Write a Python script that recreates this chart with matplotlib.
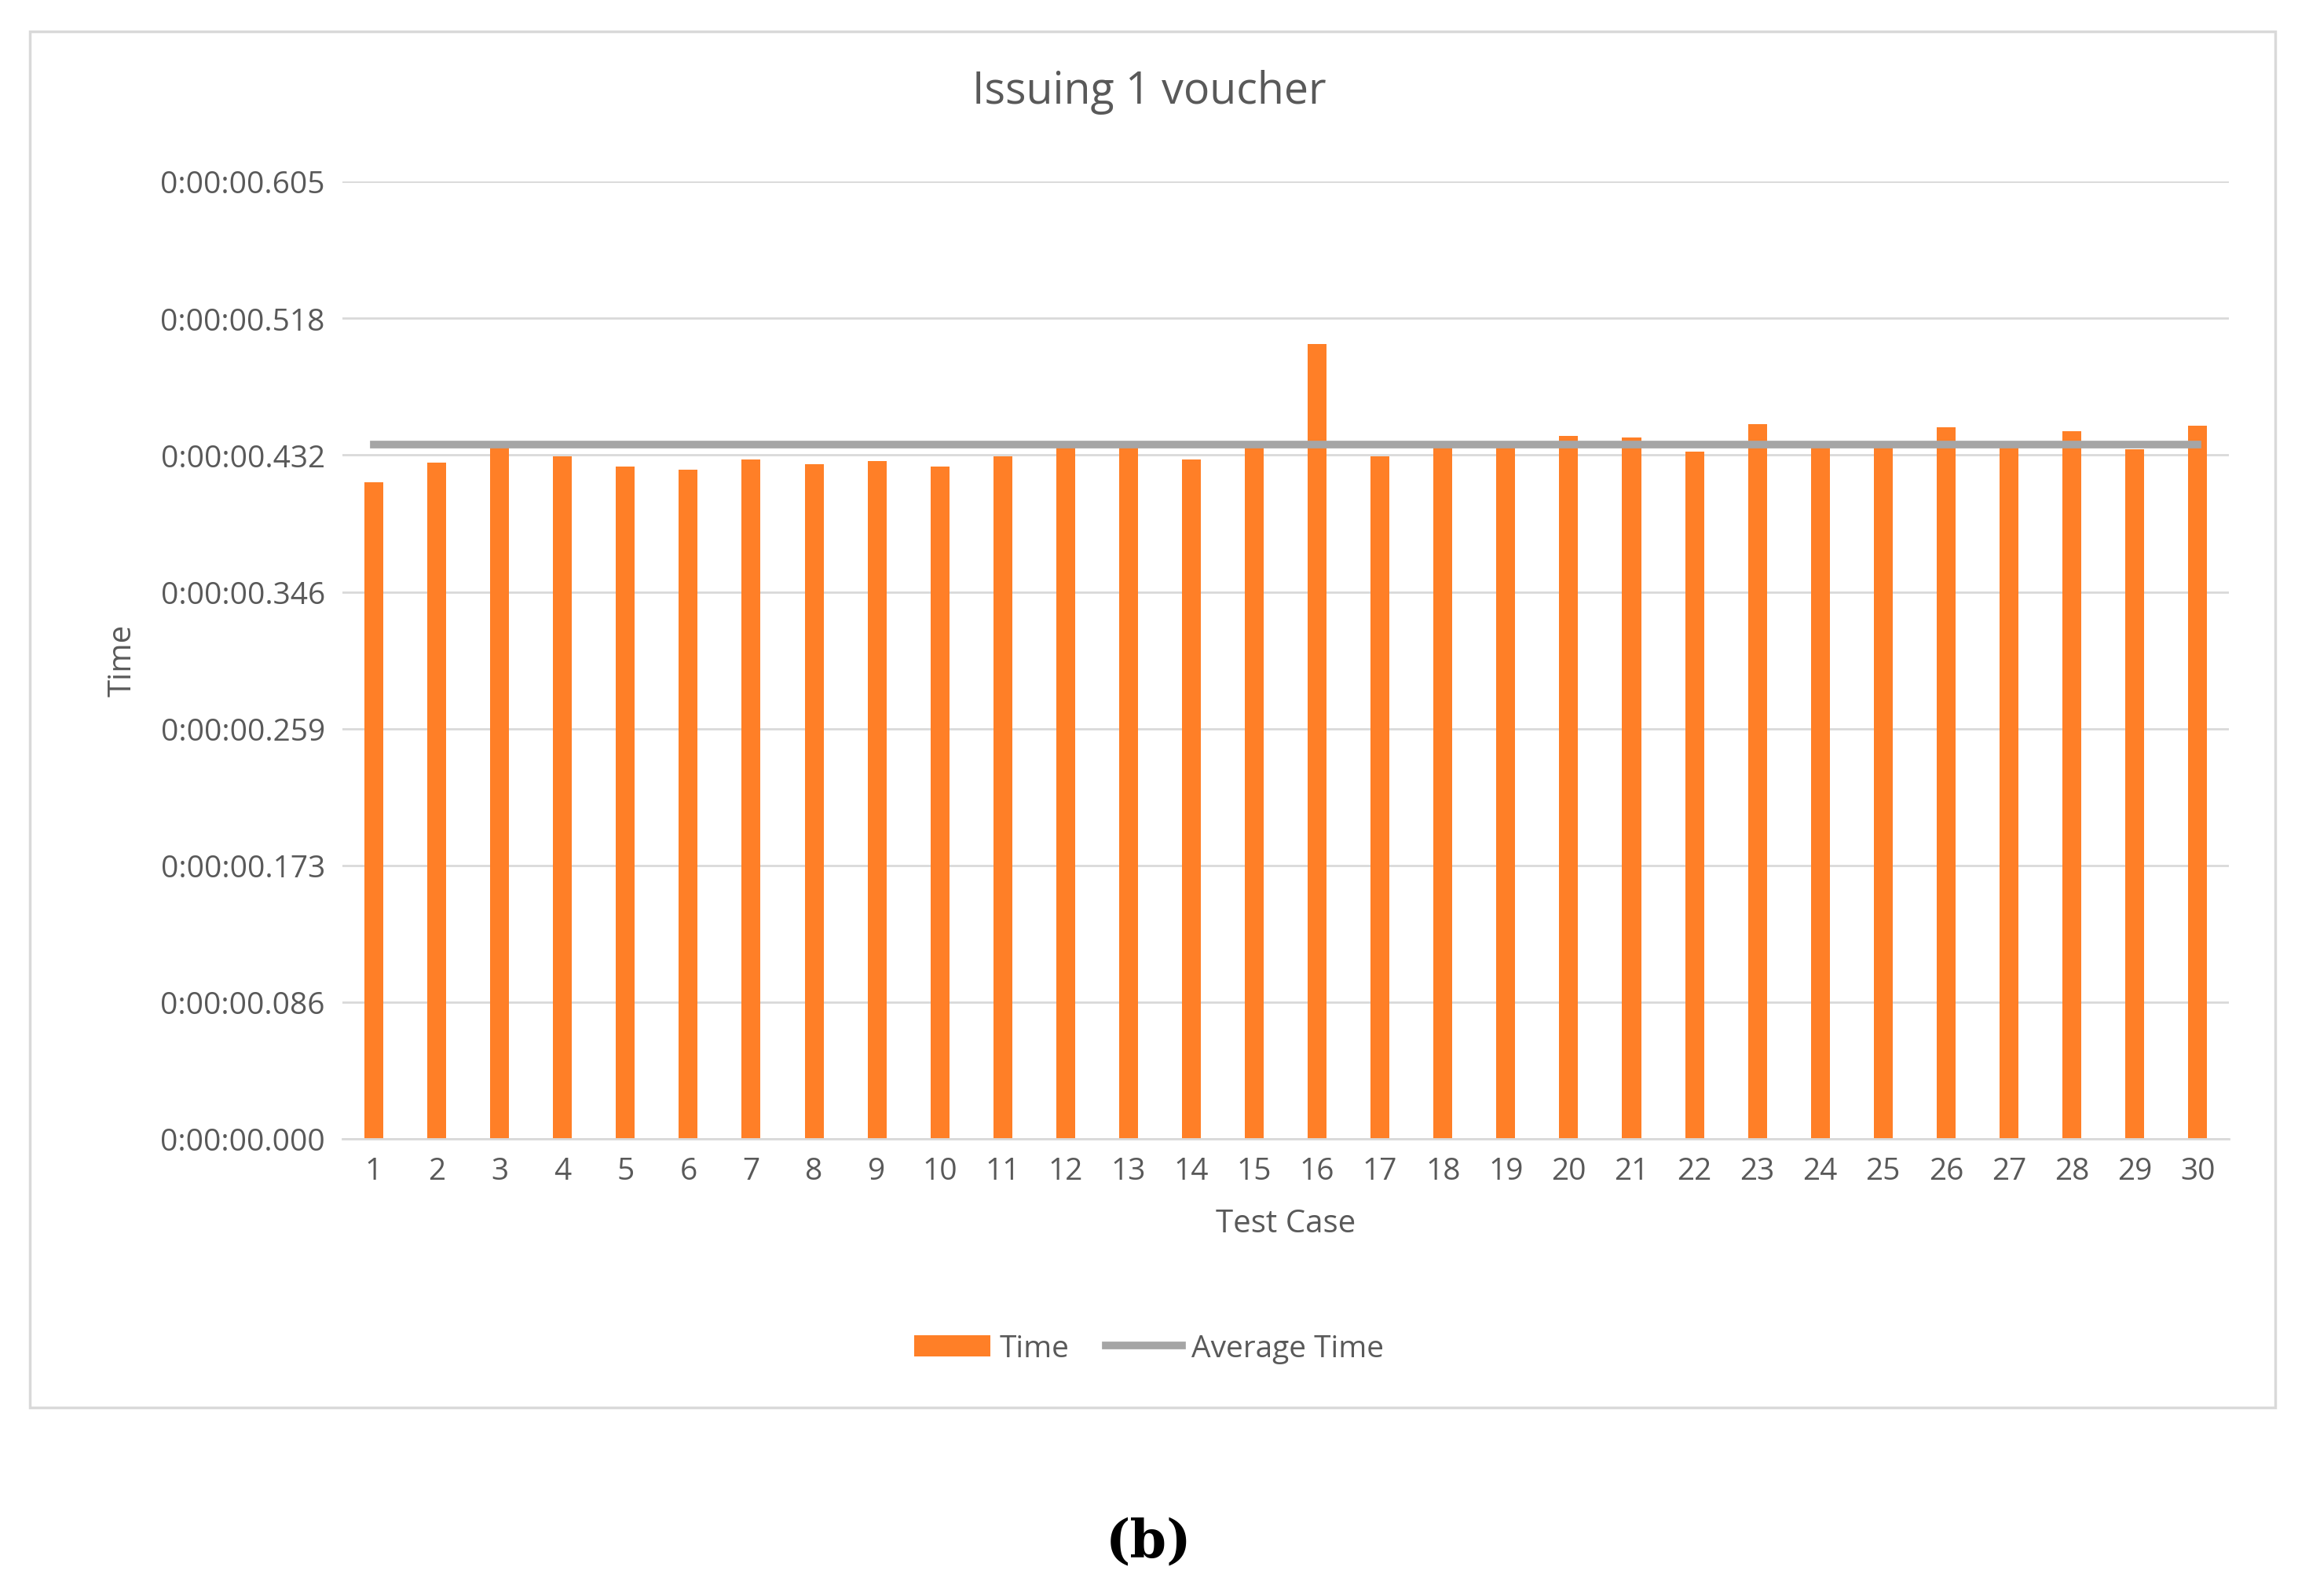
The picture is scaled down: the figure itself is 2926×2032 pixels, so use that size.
import matplotlib.pyplot as plt
from matplotlib.patches import Rectangle

cases = list(range(1, 31))
times = [0.415, 0.427, 0.4376, 0.431, 0.4246, 0.4227, 0.429, 0.426, 0.428, 0.4246,
         0.431, 0.4367, 0.4367, 0.429, 0.4367, 0.502, 0.431, 0.4367, 0.4367, 0.444,
         0.443, 0.434, 0.4516, 0.4367, 0.4367, 0.4497, 0.4367, 0.447, 0.4358, 0.4507]
average_time = 0.4386
tick_values = [0.0, 0.0864, 0.1728, 0.2592, 0.3456, 0.432, 0.5184, 0.605]
tick_labels = ["0:00:00.000", "0:00:00.086", "0:00:00.173", "0:00:00.259",
               "0:00:00.346", "0:00:00.432", "0:00:00.518", "0:00:00.605"]

plt.rcParams["font.family"] = ["Open Sans", "DejaVu Sans"]
text_color = "#595959"

fig = plt.figure(figsize=(29.26, 20.33), dpi=100)
# chart frame
fig.patches.append(Rectangle((0.013, 0.118), 0.977, 0.862, transform=fig.transFigure,
                             fill=False, edgecolor="#d9d9d9", linewidth=2.5))

ax = fig.add_axes([0.149, 0.2863, 0.821, 0.5997])
ax.bar(cases, times, width=0.3, color="#ff7f27", label="Time", zorder=2)
ax.plot([cases[0], cases[-1]], [average_time, average_time], color="#a5a5a5",
        linewidth=7, label="Average Time", zorder=3)

ax.set_xlim(0.5, 30.5)
ax.set_ylim(0, 0.605)
ax.set_yticks(tick_values)
ax.set_yticklabels(tick_labels)
ax.set_xticks(cases)
ax.grid(axis="y", color="#d9d9d9", linewidth=2, zorder=0)
for side in ["top", "right", "left"]:
    ax.spines[side].set_visible(False)
ax.spines["bottom"].set_color("#d9d9d9")
ax.spines["bottom"].set_linewidth(2)
ax.tick_params(length=0, labelsize=28, colors=text_color, pad=16)

fig.text(0.5, 0.935, "Issuing 1 voucher", ha="center", fontsize=40, color=text_color)
ax.set_xlabel("Test Case", fontsize=29, color=text_color, labelpad=20)
ax.set_ylabel("Time", fontsize=29, color=text_color, labelpad=20)

handles, labels = ax.get_legend_handles_labels()
order = [labels.index("Time"), labels.index("Average Time")]
fig.legend([handles[i] for i in order], [labels[i] for i in order],
           loc="center", bbox_to_anchor=(0.5, 0.155), ncol=2, frameon=False,
           fontsize=28, labelcolor=text_color, handlelength=2.5, columnspacing=1.2,
           handletextpad=0.3)

fig.text(0.5, 0.025, "(b)", ha="center", fontsize=48, fontweight="bold",
         family="DejaVu Serif")

fig.savefig("out.png", dpi=100)
